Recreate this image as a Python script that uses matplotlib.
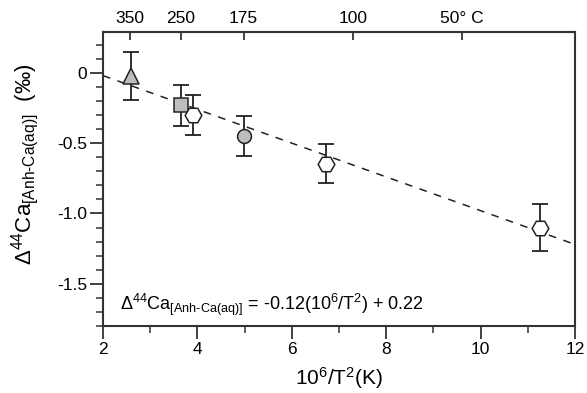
import matplotlib
matplotlib.use("Agg")
import matplotlib.pyplot as plt
from matplotlib.ticker import MultipleLocator

plt.rcParams['font.family'] = ['Liberation Sans', 'DejaVu Sans']
plt.rcParams['mathtext.fontset'] = 'custom'
plt.rcParams['mathtext.rm'] = 'Liberation Sans'
plt.rcParams['mathtext.it'] = 'Liberation Sans'
plt.rcParams['mathtext.default'] = 'regular'

# data
x_vals = [2.59, 3.65, 3.90, 4.99, 6.72, 11.26]
y_vals = [-0.02, -0.23, -0.30, -0.45, -0.645, -1.10]
y_err = [0.17, 0.145, 0.14, 0.14, 0.14, 0.17]
markers = ['^', 's', 'H', 'o', 'H', 'H']
facecolors = ['#bdbdbd', '#bdbdbd', 'white', '#bdbdbd', 'white', 'white']
msizes = [12, 10, 12, 10, 12, 12]

fit_slope = -0.12
fit_intercept = 0.22
fit_x = [2, 12]

top_tick_pos = [2.575, 3.654, 4.979, 7.30, 9.60]
top_tick_labels = ['350', '250', '175', '100', '50° C']

fig = plt.figure(figsize=(5.87, 3.93), dpi=100)
ax = fig.add_axes([0.1755, 0.1705, 0.804, 0.748])

ax.plot(fit_x, [fit_slope * v + fit_intercept for v in fit_x], ls=(0, (5, 5)),
        color='#222222', lw=1.1, zorder=1)

for x, y, e, m, fc, ms in zip(x_vals, y_vals, y_err, markers, facecolors, msizes):
    ax.errorbar(x, y, yerr=e, fmt='none', ecolor='#222222', elinewidth=1.3,
                capsize=6, capthick=1.3, zorder=2)
    ax.plot(x, y, marker=m, ms=ms, mfc=fc, mec='#222222', mew=1.1, ls='none', zorder=3)

ax.set_xlim(2, 12)
ax.set_ylim(-1.80, 0.29)
ax.xaxis.set_major_locator(MultipleLocator(2))
ax.xaxis.set_minor_locator(MultipleLocator(1))
ax.yaxis.set_major_locator(MultipleLocator(0.5))
ax.yaxis.set_minor_locator(MultipleLocator(0.1))
ax.set_yticks([0, -0.5, -1.0, -1.5])
ax.set_yticklabels(['0', '-0.5', '-1.0', '-1.5'])

for s in ax.spines.values():
    s.set_linewidth(1.5)
    s.set_color('#333333')
ax.tick_params(which='major', direction='out', length=9.5, width=1.3, color='#333333',
               labelsize=12.5, pad=2)
ax.tick_params(which='minor', direction='out', length=5, width=1.1, color='#333333')
ax.tick_params(axis='x', which='both', top=False)

ax.set_xlabel(r'10$^{6}$/T$^{2}$(K)', fontsize=15, labelpad=6)
ax.set_ylabel(r'$\Delta^{44}$Ca$_{[\mathrm{Anh\text{-}Ca(aq)}]}$  (‰)', fontsize=16)
ax.yaxis.set_label_coords(-0.131, 0.55)

ax.text(2.36, -1.685, r'$\Delta^{44}$Ca$_{[\mathrm{Anh\text{-}Ca(aq)}]}$ = -0.12(10$^{6}$/T$^{2}$) + 0.22',
        fontsize=13, ha='left', va='baseline')

top = ax.secondary_xaxis('top')
top.set_xticks(top_tick_pos)
top.set_xticklabels(top_tick_labels)
top.tick_params(direction='in', length=6, width=1.3, color='#333333', labelsize=12.5, pad=4)
top.spines['top'].set_linewidth(1.5)
top.spines['top'].set_color('#333333')

fig.savefig('out.png', dpi=100)
